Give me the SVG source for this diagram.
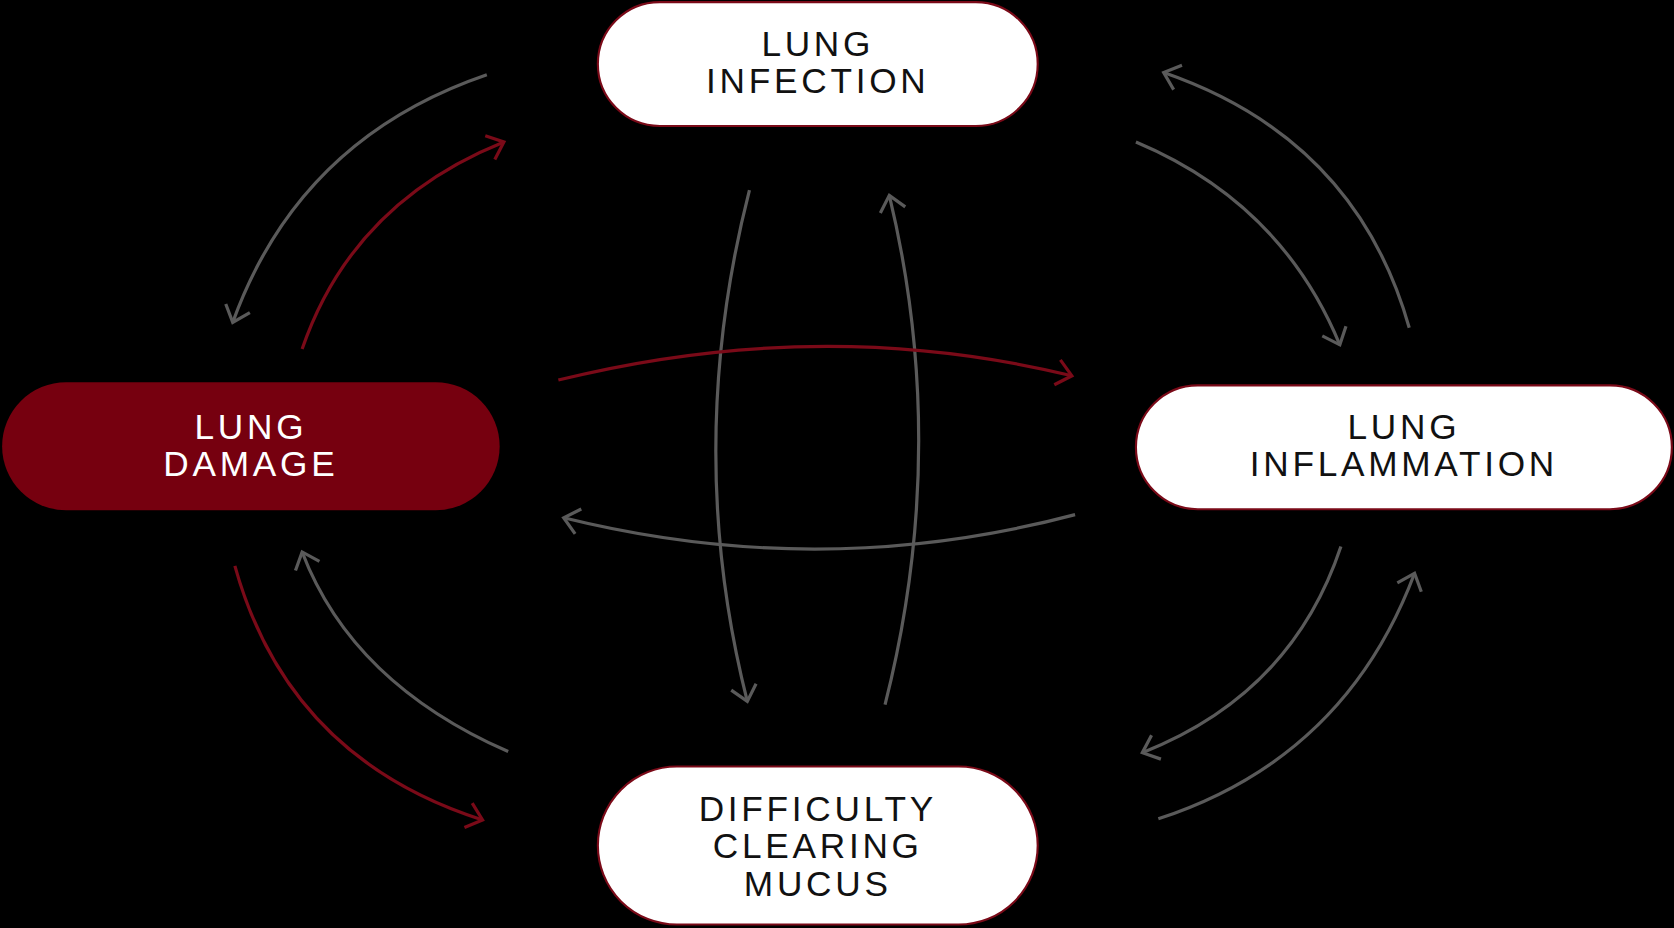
<svg xmlns="http://www.w3.org/2000/svg" width="1674" height="928" viewBox="0 0 1674 928">
<style>
.c{fill:none;stroke-width:3}
.g{stroke:#5a5a5a}
.r{stroke:#7a0a18}
.t{font-family:"Liberation Sans",Arial,sans-serif;font-size:33px;letter-spacing:3.5px;text-anchor:middle}
.w{fill:#fff;stroke:#7a0a18;stroke-width:2}
</style>
<defs>
<marker id="ag" markerUnits="userSpaceOnUse" markerWidth="30" markerHeight="30" refX="0" refY="0" viewBox="-16 -15 20 30" orient="auto"><path d="M-14,-12 L0,0 L-14,12" fill="none" stroke="#5a5a5a" stroke-width="3"/></marker>
<marker id="ar" markerUnits="userSpaceOnUse" markerWidth="30" markerHeight="30" refX="0" refY="0" viewBox="-16 -15 20 30" orient="auto"><path d="M-14,-12 L0,0 L-14,12" fill="none" stroke="#7a0a18" stroke-width="3"/></marker>
</defs>
<rect width="1674" height="928" fill="#000"/>
<g transform="scale(1.0676)">
<g id="connectors">
<path class="c g" d="M456,70 Q280,130 218,302" marker-end="url(#ag)"/>
<path class="c r" d="M283,327 Q330,190 472,133" marker-end="url(#ar)"/>
<path class="c g" d="M1064,133 Q1200,190 1255,323" marker-end="url(#ag)"/>
<path class="c g" d="M1320,307 Q1270,130 1090,68" marker-end="url(#ag)"/>
<path class="c g" d="M702,178 Q640,420 700,657" marker-end="url(#ag)"/>
<path class="c g" d="M829,660 Q890,420 833,183" marker-end="url(#ag)"/>
<path class="c r" d="M523,356 Q770,295 1004,352" marker-end="url(#ar)"/>
<path class="c g" d="M1007,482 Q770,545 528,485" marker-end="url(#ag)"/>
<path class="c r" d="M220,530 Q270,710 452,768" marker-end="url(#ar)"/>
<path class="c g" d="M476,704 Q330,640 283,517" marker-end="url(#ag)"/>
<path class="c g" d="M1256,512 Q1210,650 1070,705" marker-end="url(#ag)"/>
<path class="c g" d="M1085,767 Q1260,710 1325,537" marker-end="url(#ag)"/>
</g>
<g id="infection"><rect class="w" x="560" y="2" width="412" height="116" rx="58"/><text class="t" x="766" y="52" fill="#111">LUNG</text><text class="t" x="766" y="87" fill="#111">INFECTION</text></g>
<g id="damage"><rect x="2" y="358" width="466" height="120" rx="60" fill="#76000f"/><text class="t" x="235" y="411" fill="#fff">LUNG</text><text class="t" x="235" y="446" fill="#fff">DAMAGE</text></g>
<g id="inflammation"><rect class="w" x="1064" y="361" width="502" height="116" rx="58"/><text class="t" x="1315" y="411" fill="#111">LUNG</text><text class="t" x="1315" y="446" fill="#111">INFLAMMATION</text></g>
<g id="mucus"><rect class="w" x="560" y="718" width="412" height="148" rx="74"/><text class="t" x="766" y="769" fill="#111">DIFFICULTY</text><text class="t" x="766" y="804" fill="#111">CLEARING</text><text class="t" x="766" y="839" fill="#111">MUCUS</text></g>
</g>
</svg>
